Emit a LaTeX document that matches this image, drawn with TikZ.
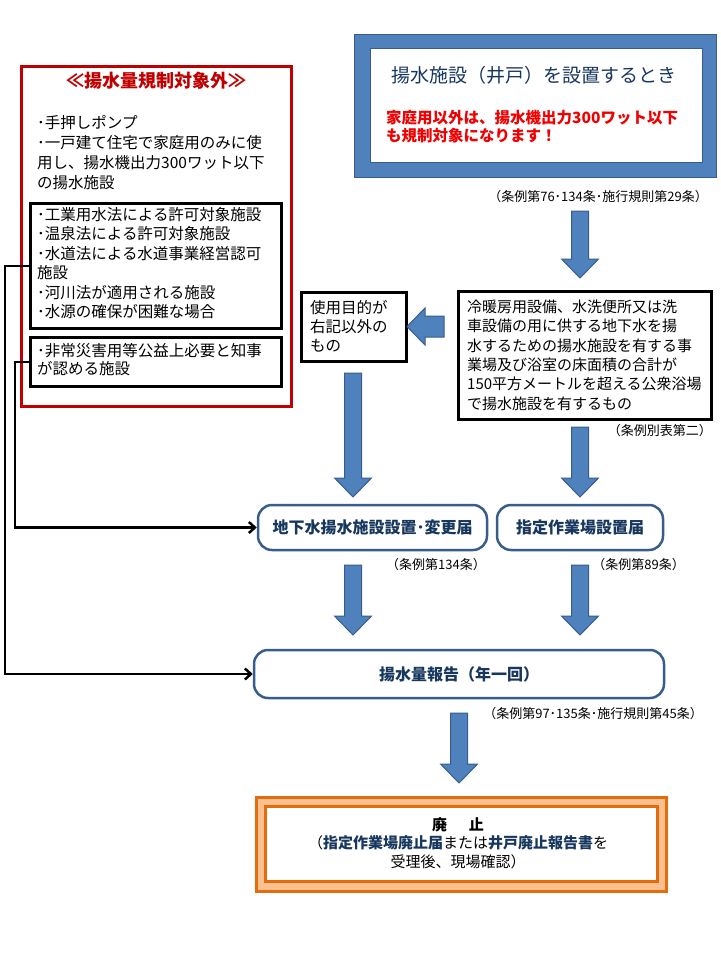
\documentclass[tikz,border=0pt]{standalone}
\usepackage{fontspec}
\setmainfont{Noto Sans CJK JP}
\usetikzlibrary{arrows.meta}
\definecolor{dred}{RGB}{192,0,0}
\definecolor{bred}{RGB}{240,0,0}
\definecolor{bblue}{RGB}{79,129,189}
\definecolor{bedge}{RGB}{56,93,138}
\definecolor{navy}{RGB}{23,55,94}
\definecolor{orng}{RGB}{228,108,10}
\definecolor{lorng}{RGB}{250,192,144}
\tikzset{
  sq/.style={draw=black, line width=3pt, fill=white, inner sep=0pt, anchor=north west},
  rbox/.style={draw=bedge, line width=2.5pt, rounded corners=14pt, fill=white, inner sep=0pt,
    font=\fontsize{16}{19}\selectfont\bfseries, text=navy},
  captext/.style={font=\fontsize{13}{15}\selectfont, inner sep=0pt, anchor=east},
  txt/.style={align=left, inner sep=0pt, anchor=north west},
  conn/.style={line width=2.5pt, -{Straight Barb[length=6pt,width=11pt]}},
  barrow/.style={fill=bblue, draw=bedge, line width=1pt, line join=miter},
}
\newcommand\bdown[3]{%
  \draw[barrow] (#1-8.5,#2) -- (#1+8.5,#2) -- (#1+8.5,#3-19) -- (#1+18.5,#3-19)
    -- (#1,#3) -- (#1-18.5,#3-19) -- (#1-8.5,#3-19) -- cycle;}
\begin{document}
\begin{tikzpicture}[x=1pt,y=-1pt]
\useasboundingbox (0,0) rectangle (720,960);
\fill[white] (0,0) rectangle (720,960);

% ---- left red box
\node[draw=dred, line width=3pt, minimum width=270pt, minimum height=340pt,
      anchor=north west, inner sep=0pt] (redbox) at (20,65) {};
\node[text=dred, font=\fontsize{18}{20}\selectfont\bfseries] (redtitle) at (156,81) {≪揚水量規制対象外≫};
\node[txt, font=\fontsize{15.5}{20}\selectfont] (redtxt) at (37,115)
  {･手押しポンプ\\･一戸建て住宅で家庭用のみに使\\用し、揚水機出力300ワット以下\\の揚水施設};
\node[sq, minimum width=251pt, minimum height=125pt] (box1) at (29,202) {};
\node[txt, font=\fontsize{15.5}{19.5}\selectfont] (box1txt) at (37,207)
  {･工業用水法による許可対象施設\\･温泉法による許可対象施設\\･水道法による水道事業経営認可\\施設\\･河川法が適用される施設\\･水源の確保が困難な場合};
\node[sq, minimum width=251pt, minimum height=49pt] (box2) at (29,336) {};
\node[txt, font=\fontsize{15.5}{18.5}\selectfont] (box2txt) at (37,343)
  {･非常災害用等公益上必要と知事\\が認める施設};

% ---- top blue box
\node[fill=bblue, draw=bedge, line width=1pt, minimum width=362pt, minimum height=143pt,
      anchor=north west, inner sep=0pt] (topbox) at (354,34) {};
\node[fill=white, draw=bedge, line width=1pt, minimum width=332pt, minimum height=114pt,
      anchor=north west, inner sep=0pt] (topin) at (370,48) {};
\node[text=navy, font=\fontsize{19}{22}\selectfont, inner sep=0pt] (toptitle) at (534,75)
  {揚水施設（井戸）を設置するとき};
\node[txt, text=bred, font=\fontsize{15.5}{18}\selectfont\bfseries] (topred) at (386,110)
  {家庭用以外は、揚水機出力300ワット以下\\も規制対象になります！};
\node[captext] (cap1) at (708,197) {（条例第76･134条･施行規則第29条）};

% ---- middle boxes
\node[sq, minimum width=253pt, minimum height=128pt] (cond) at (457,290) {};
\node[txt, font=\fontsize{15}{19.4}\selectfont] (condtxt) at (467,299.5)
  {冷暖房用設備、水洗便所又は洗\\車設備の用に供する地下水を揚\\水するための揚水施設を有する事\\業場及び浴室の床面積の合計が\\150平方メートルを超える公衆浴場\\で揚水施設を有するもの};
\node[captext] (cap2) at (712,431) {（条例別表第二）};
\node[sq, minimum width=105pt, minimum height=69pt] (other) at (300,291) {};
\node[txt, font=\fontsize{15.5}{19}\selectfont] (othertxt) at (310,300)
  {使用目的が\\右記以外の\\もの};

% ---- rounded boxes
\node[rbox, minimum width=229pt, minimum height=45pt] (rb1) at (372.5,527.5) {地下水揚水施設設置･変更届};
\node[rbox, minimum width=166pt, minimum height=45pt] (rb2) at (580,527.5) {指定作業場設置届};
\node[captext] (cap3) at (486,565) {（条例第134条）};
\node[captext] (cap4) at (685,565) {（条例第89条）};
\node[rbox, minimum width=410pt, minimum height=48pt] (rb3) at (459,674) {揚水量報告（年一回）};
\node[captext] (cap5) at (703,714) {（条例第97･135条･施行規則第45条）};

% ---- orange box
\node[fill=lorng, draw=orng, line width=3pt, minimum width=410pt, minimum height=94pt,
      anchor=north west, inner sep=0pt] (endbox) at (255,796) {};
\node[fill=white, draw=orng, line width=2.5pt, minimum width=392pt, minimum height=75pt,
      anchor=north west, inner sep=0pt] (endin) at (264,805) {};
\node[align=center, font=\fontsize{15}{18.5}\selectfont, inner sep=0pt] (endtxt) at (458,843)
  {{\bfseries 廃\hspace{22pt}止}\\（{\bfseries\color{navy}指定作業場廃止届}または{\bfseries\color{navy}井戸廃止報告書}を\\受理後、現場確認）};

% ---- block arrows
\bdown{580}{211}{278}
\bdown{353}{373}{497}
\bdown{580}{427}{497}
\bdown{353}{565}{635}
\bdown{580}{565}{635}
\bdown{459}{713}{783}
\draw[barrow] (444,316) -- (425,316) -- (425,308) -- (407,326.5) -- (425,345)
  -- (425,337) -- (444,337) -- cycle;

% ---- connectors
\draw[conn] (box1.west) -- ++(-24,0) |- (rb3.west);
\draw[conn] (box2.west) -- ++(-14,0) |- (rb1.west);
\end{tikzpicture}
\end{document}
